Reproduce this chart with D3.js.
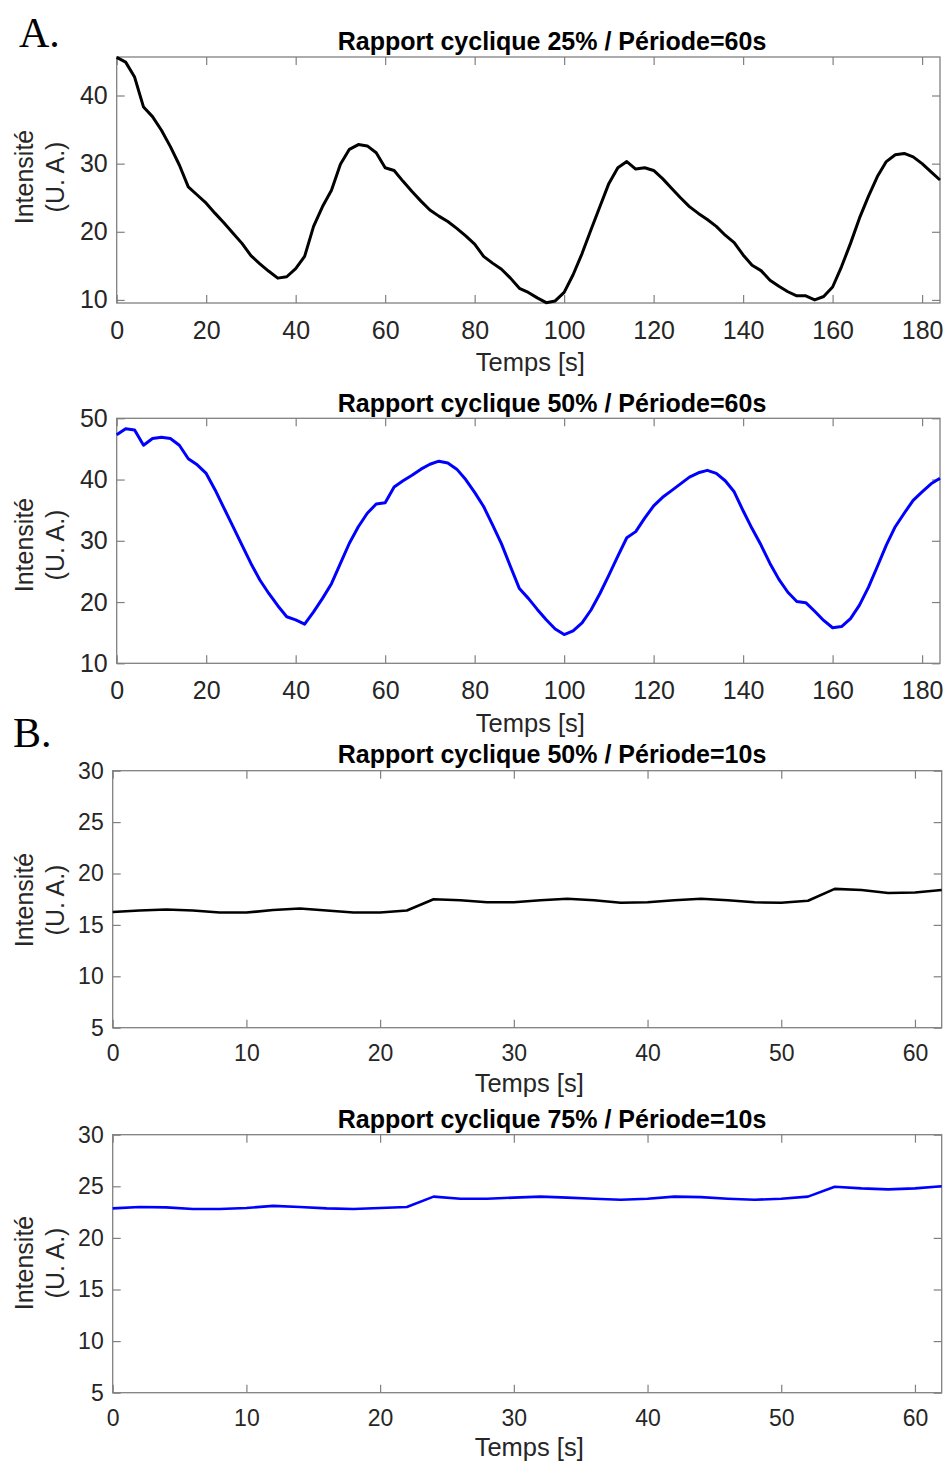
<!DOCTYPE html>
<html lang="fr">
<head>
<meta charset="utf-8">
<title>Rapport cyclique</title>
<script src="https://d3js.org/d3.v7.min.js"></script>
<style>
  body { margin: 0; padding: 0; background: #fff; overflow: hidden; }
  svg text { font-family: "Liberation Sans", Arial, sans-serif; }
</style>
</head>
<body>
<svg id="fig"></svg>
<script>
// --- data ---
const timeA = [0, 2, 4, 6, 8, 10, 12, 14, 16, 18, 20, 22, 24, 26, 28, 30, 32, 34, 36, 38,
  40, 42, 44, 46, 48, 50, 52, 54, 56, 58, 60, 62, 64, 66, 68, 70, 72, 74, 76, 78,
  80, 82, 84, 86, 88, 90, 92, 94, 96, 98, 100, 102, 104, 106, 108, 110, 112, 114, 116, 118,
  120, 122, 124, 126, 128, 130, 132, 134, 136, 138, 140, 142, 144, 146, 148, 150, 152, 154, 156, 158,
  160, 162, 164, 166, 168, 170, 172, 174, 176, 178, 180, 182, 184];

const intensityA25 = [45.6, 44.9, 42.7, 38.3, 36.9, 34.9, 32.5, 29.8, 26.6, 25.4,
  24.2, 22.7, 21.3, 19.8, 18.3, 16.5, 15.3, 14.2, 13.2, 13.4,
  14.6, 16.4, 20.8, 23.7, 26.1, 29.9, 32.1, 32.8, 32.6, 31.6,
  29.4, 29.0, 27.4, 25.9, 24.5, 23.2, 22.3, 21.5, 20.5, 19.4,
  18.2, 16.4, 15.4, 14.5, 13.2, 11.7, 11.1, 10.3, 9.6, 9.85,
  11.1, 13.7, 16.8, 20.3, 23.7, 27.1, 29.4, 30.3, 29.2, 29.4,
  29.0, 27.8, 26.4, 25.0, 23.7, 22.7, 21.8, 20.8, 19.5, 18.4,
  16.6, 15.1, 14.3, 12.9, 12.0, 11.2, 10.6, 10.6, 10.0, 10.5,
  11.9, 14.9, 18.3, 22.0, 25.2, 28.1, 30.3, 31.3, 31.5, 31.0,
  30.0, 28.8, 27.6];

const intensityA50 = [47.3, 48.3, 48.1, 45.6, 46.7, 46.9, 46.7, 45.6, 43.4, 42.4,
  41.0, 38.3, 35.3, 32.3, 29.3, 26.3, 23.6, 21.4, 19.4, 17.6,
  17.1, 16.4, 18.4, 20.6, 23.0, 26.3, 29.6, 32.3, 34.5, 36.0,
  36.2, 38.8, 39.8, 40.7, 41.7, 42.5, 43.0, 42.7, 41.7, 40.0,
  37.9, 35.6, 32.6, 29.5, 25.8, 22.2, 20.6, 18.8, 17.1, 15.6,
  14.7, 15.3, 16.6, 18.7, 21.4, 24.4, 27.5, 30.5, 31.5, 33.7,
  35.7, 37.1, 38.2, 39.3, 40.4, 41.1, 41.5, 41.0, 39.8, 38.0,
  34.9, 32.0, 29.3, 26.3, 23.7, 21.6, 20.1, 19.9, 18.5, 17.0,
  15.8, 16.0, 17.3, 19.5, 22.4, 25.8, 29.3, 32.3, 34.5, 36.6,
  38.0, 39.3, 40.2];

const timeB = [0, 2, 4, 6, 8, 10, 12, 14, 16, 18, 20, 22, 24, 26, 28, 30,
  32, 34, 36, 38, 40, 42, 44, 46, 48, 50, 52, 54, 56, 58, 60, 62];

const intensityB50 = [16.25, 16.4, 16.5, 16.4, 16.2, 16.2, 16.45, 16.6, 16.4, 16.2, 16.2, 16.4,
  17.5, 17.4, 17.2, 17.2, 17.4, 17.55, 17.4, 17.15, 17.2, 17.4, 17.55, 17.4,
  17.2, 17.15, 17.35, 18.5, 18.4, 18.1, 18.15, 18.4];

const intensityB75 = [22.86, 23.0, 22.96, 22.8, 22.8, 22.9, 23.1, 23.0, 22.86, 22.8, 22.9, 23.0,
  24.0, 23.8, 23.8, 23.9, 24.0, 23.9, 23.8, 23.7, 23.8, 24.0, 23.95, 23.8,
  23.7, 23.8, 24.0, 24.96, 24.8, 24.7, 24.8, 25.0];

const titles = [
  "Rapport cyclique 25% / Période=60s",
  "Rapport cyclique 50% / Période=60s",
  "Rapport cyclique 50% / Période=10s",
  "Rapport cyclique 75% / Période=10s"
];
const ticksX60 = [0, 20, 40, 60, 80, 100, 120, 140, 160, 180];
const ticksX10 = [0, 10, 20, 30, 40, 50, 60];
const ticksY1 = [10, 20, 30, 40];
const ticksY2 = [10, 20, 30, 40, 50];
const ticksYB = [5, 10, 15, 20, 25, 30];

const W = 946, H = 1463;
const svg = d3.select("#fig").attr("width", W).attr("height", H);

// panel layout (pixel boxes) + which data goes where
const panels = [
  { x: timeA, y: intensityA25, color: "#000000", lw: 3, title: titles[0],
    box: [116.7, 940, 57, 303], xDom: [0, 184], yDom: [9.55, 45.65],
    xt: ticksX60, yt: ticksY1, fs: 25, titleY: 50, xlabY: 371, ylabY: 177 },
  { x: timeA, y: intensityA50, color: "#0000ff", lw: 3, title: titles[1],
    box: [116.7, 940, 418.3, 663.3], xDom: [0, 184], yDom: [10, 50],
    xt: ticksX60, yt: ticksY2, fs: 25, titleY: 411.5, xlabY: 731.5, ylabY: 545 },
  { x: timeB, y: intensityB50, color: "#000000", lw: 2.6, title: titles[2],
    box: [112.7, 941.7, 770.7, 1027.7], xDom: [0, 62], yDom: [5, 30],
    xt: ticksX10, yt: ticksYB, fs: 23, titleY: 763, xlabY: 1092, ylabY: 900 },
  { x: timeB, y: intensityB75, color: "#0000ff", lw: 2.6, title: titles[3],
    box: [112.7, 941.7, 1134.7, 1392.7], xDom: [0, 62], yDom: [5, 30],
    xt: ticksX10, yt: ticksYB, fs: 23, titleY: 1128, xlabY: 1456, ylabY: 1263 }
];

const frameColor = "#808080";
const textColor = "#262626";

panels.forEach(p => {
  const [l, r, t, b] = p.box;
  const x = d3.scaleLinear().domain(p.xDom).range([l, r]);
  const y = d3.scaleLinear().domain(p.yDom).range([b, t]);
  const g = svg.append("g");

  // bottom axis with labels, ticks pointing inward
  const ax = g.append("g").attr("transform", `translate(0,${b})`)
    .call(d3.axisBottom(x).tickValues(p.xt).tickSize(-8).tickPadding(p.fs * 0.72).tickSizeOuter(0));
  const ay = g.append("g").attr("transform", `translate(${l},0)`)
    .call(d3.axisLeft(y).tickValues(p.yt).tickSize(-8).tickPadding(9).tickSizeOuter(0));
  const at = g.append("g").attr("transform", `translate(0,${t})`)
    .call(d3.axisTop(x).tickValues(p.xt).tickSize(-8).tickFormat("").tickSizeOuter(0));
  const ar = g.append("g").attr("transform", `translate(${r},0)`)
    .call(d3.axisRight(y).tickValues(p.yt).tickSize(-8).tickFormat("").tickSizeOuter(0));

  [ax, ay, at, ar].forEach(a => {
    a.select(".domain").remove();
    a.selectAll(".tick line").attr("stroke", frameColor).attr("stroke-width", 1.2);
    a.selectAll(".tick text").attr("fill", textColor)
      .style("font-family", '"Liberation Sans", Arial, sans-serif')
      .attr("font-size", p.fs);
  });

  g.append("rect")
    .attr("x", l).attr("y", t).attr("width", r - l).attr("height", b - t)
    .attr("fill", "none").attr("stroke", frameColor).attr("stroke-width", 1.3);

  const line = d3.line().x((d, i) => x(p.x[i])).y(d => y(d));
  g.append("path")
    .datum(p.y)
    .attr("d", line)
    .attr("fill", "none")
    .attr("stroke", p.color)
    .attr("stroke-width", p.lw)
    .attr("stroke-linejoin", "round");

  // title
  g.append("text")
    .attr("x", 552).attr("y", p.titleY)
    .attr("text-anchor", "middle")
    .attr("font-size", 25).attr("font-weight", "bold")
    .attr("fill", "#000")
    .text(p.title);

  // x label
  g.append("text")
    .attr("x", (l + r) / 2 + 2).attr("y", p.xlabY)
    .attr("text-anchor", "middle")
    .attr("font-size", 25.5).attr("fill", textColor)
    .text("Temps [s]");

  // y label, two lines
  const yl = g.append("text")
    .attr("transform", `translate(32.5,${p.ylabY}) rotate(-90)`)
    .attr("text-anchor", "middle")
    .attr("font-size", 25).attr("fill", textColor);
  yl.append("tspan").attr("x", 0).attr("y", 0).text("Intensité");
  yl.append("tspan").attr("x", 0).attr("y", 31).text("(U. A.)");
});

// panel letters
svg.append("text").attr("x", 19).attr("y", 47)
  .style("font-family", '"Liberation Serif", "Times New Roman", serif')
  .attr("font-size", 42).attr("fill", "#000").text("A.");
svg.append("text").attr("x", 13).attr("y", 747)
  .style("font-family", '"Liberation Serif", "Times New Roman", serif')
  .attr("font-size", 42).attr("fill", "#000").text("B.");
</script>
</body>
</html>
